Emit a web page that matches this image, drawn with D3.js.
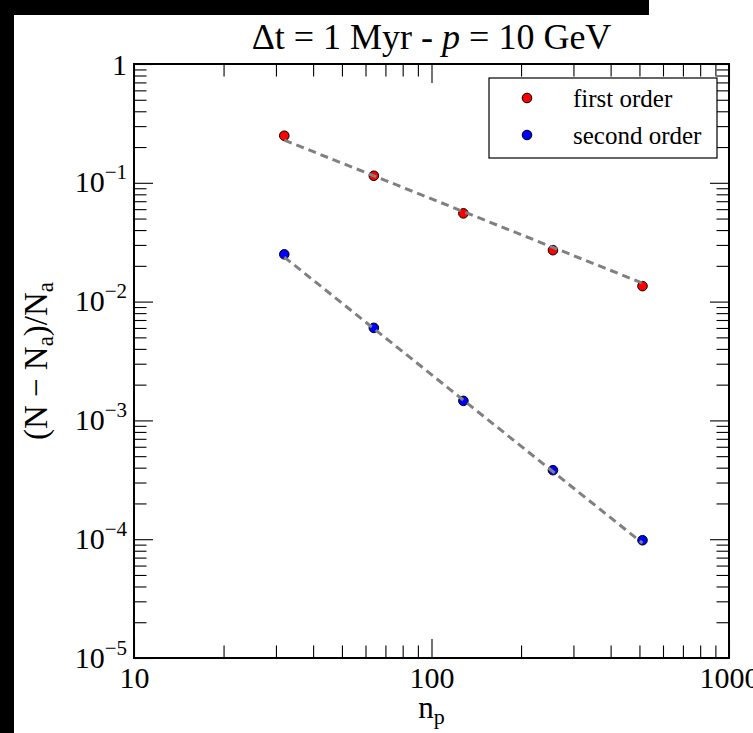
<!DOCTYPE html>
<html>
<head>
<meta charset="utf-8">
<script src="https://cdn.jsdelivr.net/npm/d3@7"></script>
<style>
  body { margin: 0; background: #fff; }
  svg { display: block; font-family: "Liberation Serif", "DejaVu Serif", serif; }
</style>
</head>
<body>
<svg id="chart"></svg>
<script>
const width = 753;
const height = 733;

// Plot frame
const margin = { top: 64, right: 24, bottom: 75, left: 134 };
const plotW = width - margin.left - margin.right;
const plotH = height - margin.top - margin.bottom;

// Data
const np = [32, 64, 128, 256, 512];
const firstOrder = [0.249, 0.1146, 0.0553, 0.0271, 0.0135];
const secondOrder = [0.0250, 0.00601, 0.00146, 0.000381, 0.000098];

// Dashed fit lines (endpoints)
const fitX = [32, 512];
const fitFirst = [0.229, 0.0143];
const fitSecond = [0.0237, 0.0000926];

// Ticks
const xMajor = [10, 100, 1000];
const xMajorLabels = ['10', '100', '1000'];
const yMajor = [1, 1e-1, 1e-2, 1e-3, 1e-4, 1e-5];
const yMajorExp = [null, '\u22121', '\u22122', '\u22123', '\u22124', '\u22125'];

const seriesNames = ['first order', 'second order'];
const seriesColors = ['#ff0000', '#0000ff'];

const xMinor = [];
[10, 100].forEach(d => { for (let k = 2; k <= 9; k++) xMinor.push(d * k); });
const yMinor = [];
[1e-5, 1e-4, 1e-3, 1e-2, 1e-1].forEach(d => { for (let k = 2; k <= 9; k++) yMinor.push(d * k); });

const svg = d3.select('#chart')
    .attr('width', width)
    .attr('height', height);

svg.append('rect').attr('width', width).attr('height', height).attr('fill', '#fff');

// Black edges of the original screenshot
svg.append('rect').attr('x', 0).attr('y', 0).attr('width', 649).attr('height', 15).attr('fill', '#000');
svg.append('rect').attr('x', 0).attr('y', 0).attr('width', 14).attr('height', height).attr('fill', '#000');

const g = svg.append('g')
    .attr('transform', `translate(${margin.left},${margin.top})`);

const x = d3.scaleLog().domain([10, 1000]).range([0, plotW]);
const y = d3.scaleLog().domain([1e-5, 1]).range([plotH, 0]);

const majorLen = 19;
const minorLen = 12.5;

function styleAxis(sel) {
    sel.attr('font-family', null).attr('font-size', null);
    sel.select('.domain').remove();
    sel.selectAll('.tick line').attr('stroke', '#000').attr('stroke-width', 1.1);
}

// Bottom
g.append('g').attr('transform', `translate(0,${plotH})`)
    .call(d3.axisBottom(x).tickValues(xMinor).tickSize(-minorLen).tickFormat(''))
    .call(styleAxis);
const xAx = g.append('g').attr('transform', `translate(0,${plotH})`)
    .call(d3.axisBottom(x).tickValues(xMajor).tickSize(-majorLen)
        .tickFormat((d, i) => xMajorLabels[i]))
    .call(styleAxis);
xAx.selectAll('.tick text')
    .attr('y', 30)
    .attr('dy', null)
    .attr('font-size', 30)
    .attr('fill', '#000');

// Top
g.append('g')
    .call(d3.axisTop(x).tickValues(xMinor).tickSize(-minorLen).tickFormat(''))
    .call(styleAxis);
g.append('g')
    .call(d3.axisTop(x).tickValues(xMajor).tickSize(-majorLen).tickFormat(''))
    .call(styleAxis);

// Left
g.append('g')
    .call(d3.axisLeft(y).tickValues(yMinor).tickSize(-minorLen).tickFormat(''))
    .call(styleAxis);
const yAx = g.append('g')
    .call(d3.axisLeft(y).tickValues(yMajor).tickSize(-majorLen).tickFormat(''))
    .call(styleAxis);
yAx.selectAll('.tick text').remove();
yAx.selectAll('.tick').each(function(d, i) {
    const t = d3.select(this).append('text')
        .attr('x', -7)
        .attr('y', 9)
        .attr('text-anchor', 'end')
        .attr('fill', '#000')
        .attr('font-size', 30);
    if (yMajorExp[i] === null) {
        t.text('1').attr('y', 10);
    } else {
        t.append('tspan').text('10');
        t.append('tspan').attr('font-size', 21).attr('dy', -13).text(yMajorExp[i]);
    }
});

// Right
g.append('g').attr('transform', `translate(${plotW},0)`)
    .call(d3.axisRight(y).tickValues(yMinor).tickSize(-minorLen).tickFormat(''))
    .call(styleAxis);
g.append('g').attr('transform', `translate(${plotW},0)`)
    .call(d3.axisRight(y).tickValues(yMajor).tickSize(-majorLen).tickFormat(''))
    .call(styleAxis);

// Frame
g.append('rect')
    .attr('width', plotW)
    .attr('height', plotH)
    .attr('fill', 'none')
    .attr('stroke', '#000')
    .attr('stroke-width', 2);

// Points
const series = [firstOrder, secondOrder];
series.forEach((vals, s) => {
    g.selectAll(`.pt${s}`)
        .data(vals)
        .enter().append('circle')
        .attr('class', `pt${s}`)
        .attr('cx', (d, i) => x(np[i]))
        .attr('cy', d => y(d))
        .attr('r', 4.8)
        .attr('fill', seriesColors[s])
        .attr('stroke', '#000')
        .attr('stroke-width', 1);
});

// Fit lines on top of the markers
const line = d3.line()
    .x((d, i) => x(fitX[i]))
    .y(d => y(d));
[fitFirst, fitSecond].forEach(f => {
    g.append('path')
        .attr('d', line(f))
        .attr('fill', 'none')
        .attr('stroke', '#808080')
        .attr('stroke-width', 3)
        .attr('stroke-dasharray', '8,5');
});

// Legend
const legend = g.append('g')
    .attr('transform', `translate(${plotW - 240},${14})`);
legend.append('rect')
    .attr('width', 228)
    .attr('height', 80)
    .attr('fill', '#fff')
    .attr('stroke', '#000')
    .attr('stroke-width', 1.2);
seriesNames.forEach((name, i) => {
    legend.append('circle')
        .attr('cx', 38)
        .attr('cy', 20 + i * 37)
        .attr('r', 4.8)
        .attr('fill', seriesColors[i])
        .attr('stroke', '#000')
        .attr('stroke-width', 1);
    legend.append('text')
        .attr('x', 84)
        .attr('y', 28.5 + i * 37)
        .attr('font-size', 25)
        .attr('fill', '#000')
        .text(name);
});

// Title
const title = svg.append('text')
    .attr('x', margin.left + plotW / 2)
    .attr('y', 49)
    .attr('text-anchor', 'middle')
    .attr('font-size', 36)
    .attr('fill', '#000');
title.append('tspan').text('\u0394t = 1 Myr - ');
title.append('tspan').attr('font-style', 'italic').text('p');
title.append('tspan').text(' = 10 GeV');

// X label
const xl = svg.append('text')
    .attr('x', margin.left + plotW / 2)
    .attr('y', 718)
    .attr('text-anchor', 'middle')
    .attr('font-size', 31)
    .attr('fill', '#000');
xl.append('tspan').text('n');
xl.append('tspan').attr('font-size', 22).attr('dy', 6).text('p');

// Y label
const yl = svg.append('text')
    .attr('transform', `translate(47,${margin.top + plotH / 2}) rotate(-90)`)
    .attr('text-anchor', 'middle')
    .attr('font-size', 33)
    .attr('fill', '#000');
yl.append('tspan').text('(N \u2212 N');
yl.append('tspan').attr('font-size', 23).attr('dy', 6).text('a');
yl.append('tspan').attr('dy', -6).text(')/N');
yl.append('tspan').attr('font-size', 23).attr('dy', 6).text('a');
</script>
</body>
</html>
